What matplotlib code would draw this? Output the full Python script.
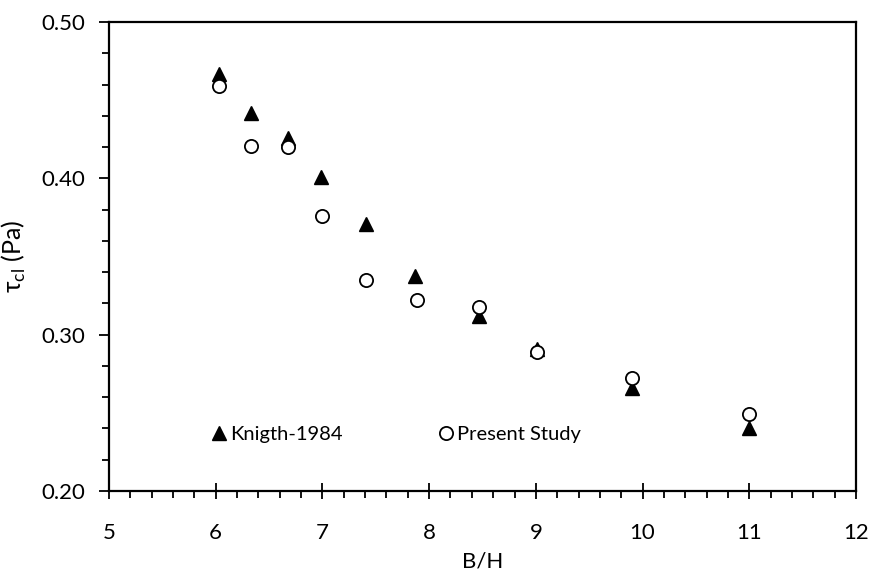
import matplotlib
matplotlib.use('Agg')
import matplotlib.pyplot as plt
from matplotlib.ticker import MultipleLocator, FormatStrFormatter

plt.rcParams['font.family'] = ['Lato', 'DejaVu Sans']
plt.rcParams['mathtext.fontset'] = 'custom'
plt.rcParams['mathtext.rm'] = 'Lato'

# Knight (1984) data
knight_bh = [6.03, 6.33, 6.68, 6.99, 7.41, 7.87, 8.47, 9.01, 9.90, 11.00]
knight_tau = [0.467, 0.442, 0.426, 0.401, 0.371, 0.3375, 0.312, 0.291, 0.266, 0.240]

# Present study data
present_bh = [6.03, 6.33, 6.68, 7.00, 7.41, 7.89, 8.47, 9.01, 9.90, 11.00]
present_tau = [0.459, 0.421, 0.420, 0.376, 0.335, 0.322, 0.318, 0.289, 0.272, 0.249]

fig = plt.figure(figsize=(8.7, 5.73), dpi=100)
ax = fig.add_axes([0.1253, 0.1431, 0.8586, 0.8185])

ax.plot(knight_bh, knight_tau, linestyle='none', marker='^', ms=9.5,
        color='black', label='Knigth-1984')
ax.plot(present_bh, present_tau, linestyle='none', marker='o', ms=9.5,
        markerfacecolor='white', markeredgecolor='black', markeredgewidth=1.3,
        label='Present Study')

ax.set_xlim(5, 12)
ax.set_ylim(0.20, 0.50)
ax.xaxis.set_major_locator(MultipleLocator(1))
ax.xaxis.set_minor_locator(MultipleLocator(0.2))
ax.yaxis.set_major_locator(MultipleLocator(0.1))
ax.yaxis.set_minor_locator(MultipleLocator(0.02))
ax.yaxis.set_major_formatter(FormatStrFormatter('%.2f'))

ax.tick_params(which='major', direction='out', length=7, width=1.3, labelsize=16)
ax.tick_params(axis='y', which='major', pad=10)
ax.tick_params(axis='x', which='major', direction='inout', length=12, pad=17)
ax.tick_params(which='minor', direction='out', length=5, width=1.3)
for s in ax.spines.values():
    s.set_linewidth(1.6)

ax.set_xlabel('B/H', fontsize=16, labelpad=6)
ax.set_ylabel(r'τ$_{\mathregular{cl}}$ (Pa)', fontsize=18, labelpad=10)

ax.legend(loc='center left', bbox_to_anchor=(0.134, 0.12), ncol=2, frameon=False,
          fontsize=14.5, handletextpad=0.05, handlelength=1.0, columnspacing=4.6,
          borderpad=0, borderaxespad=0)

fig.savefig('out.png', dpi=100)
